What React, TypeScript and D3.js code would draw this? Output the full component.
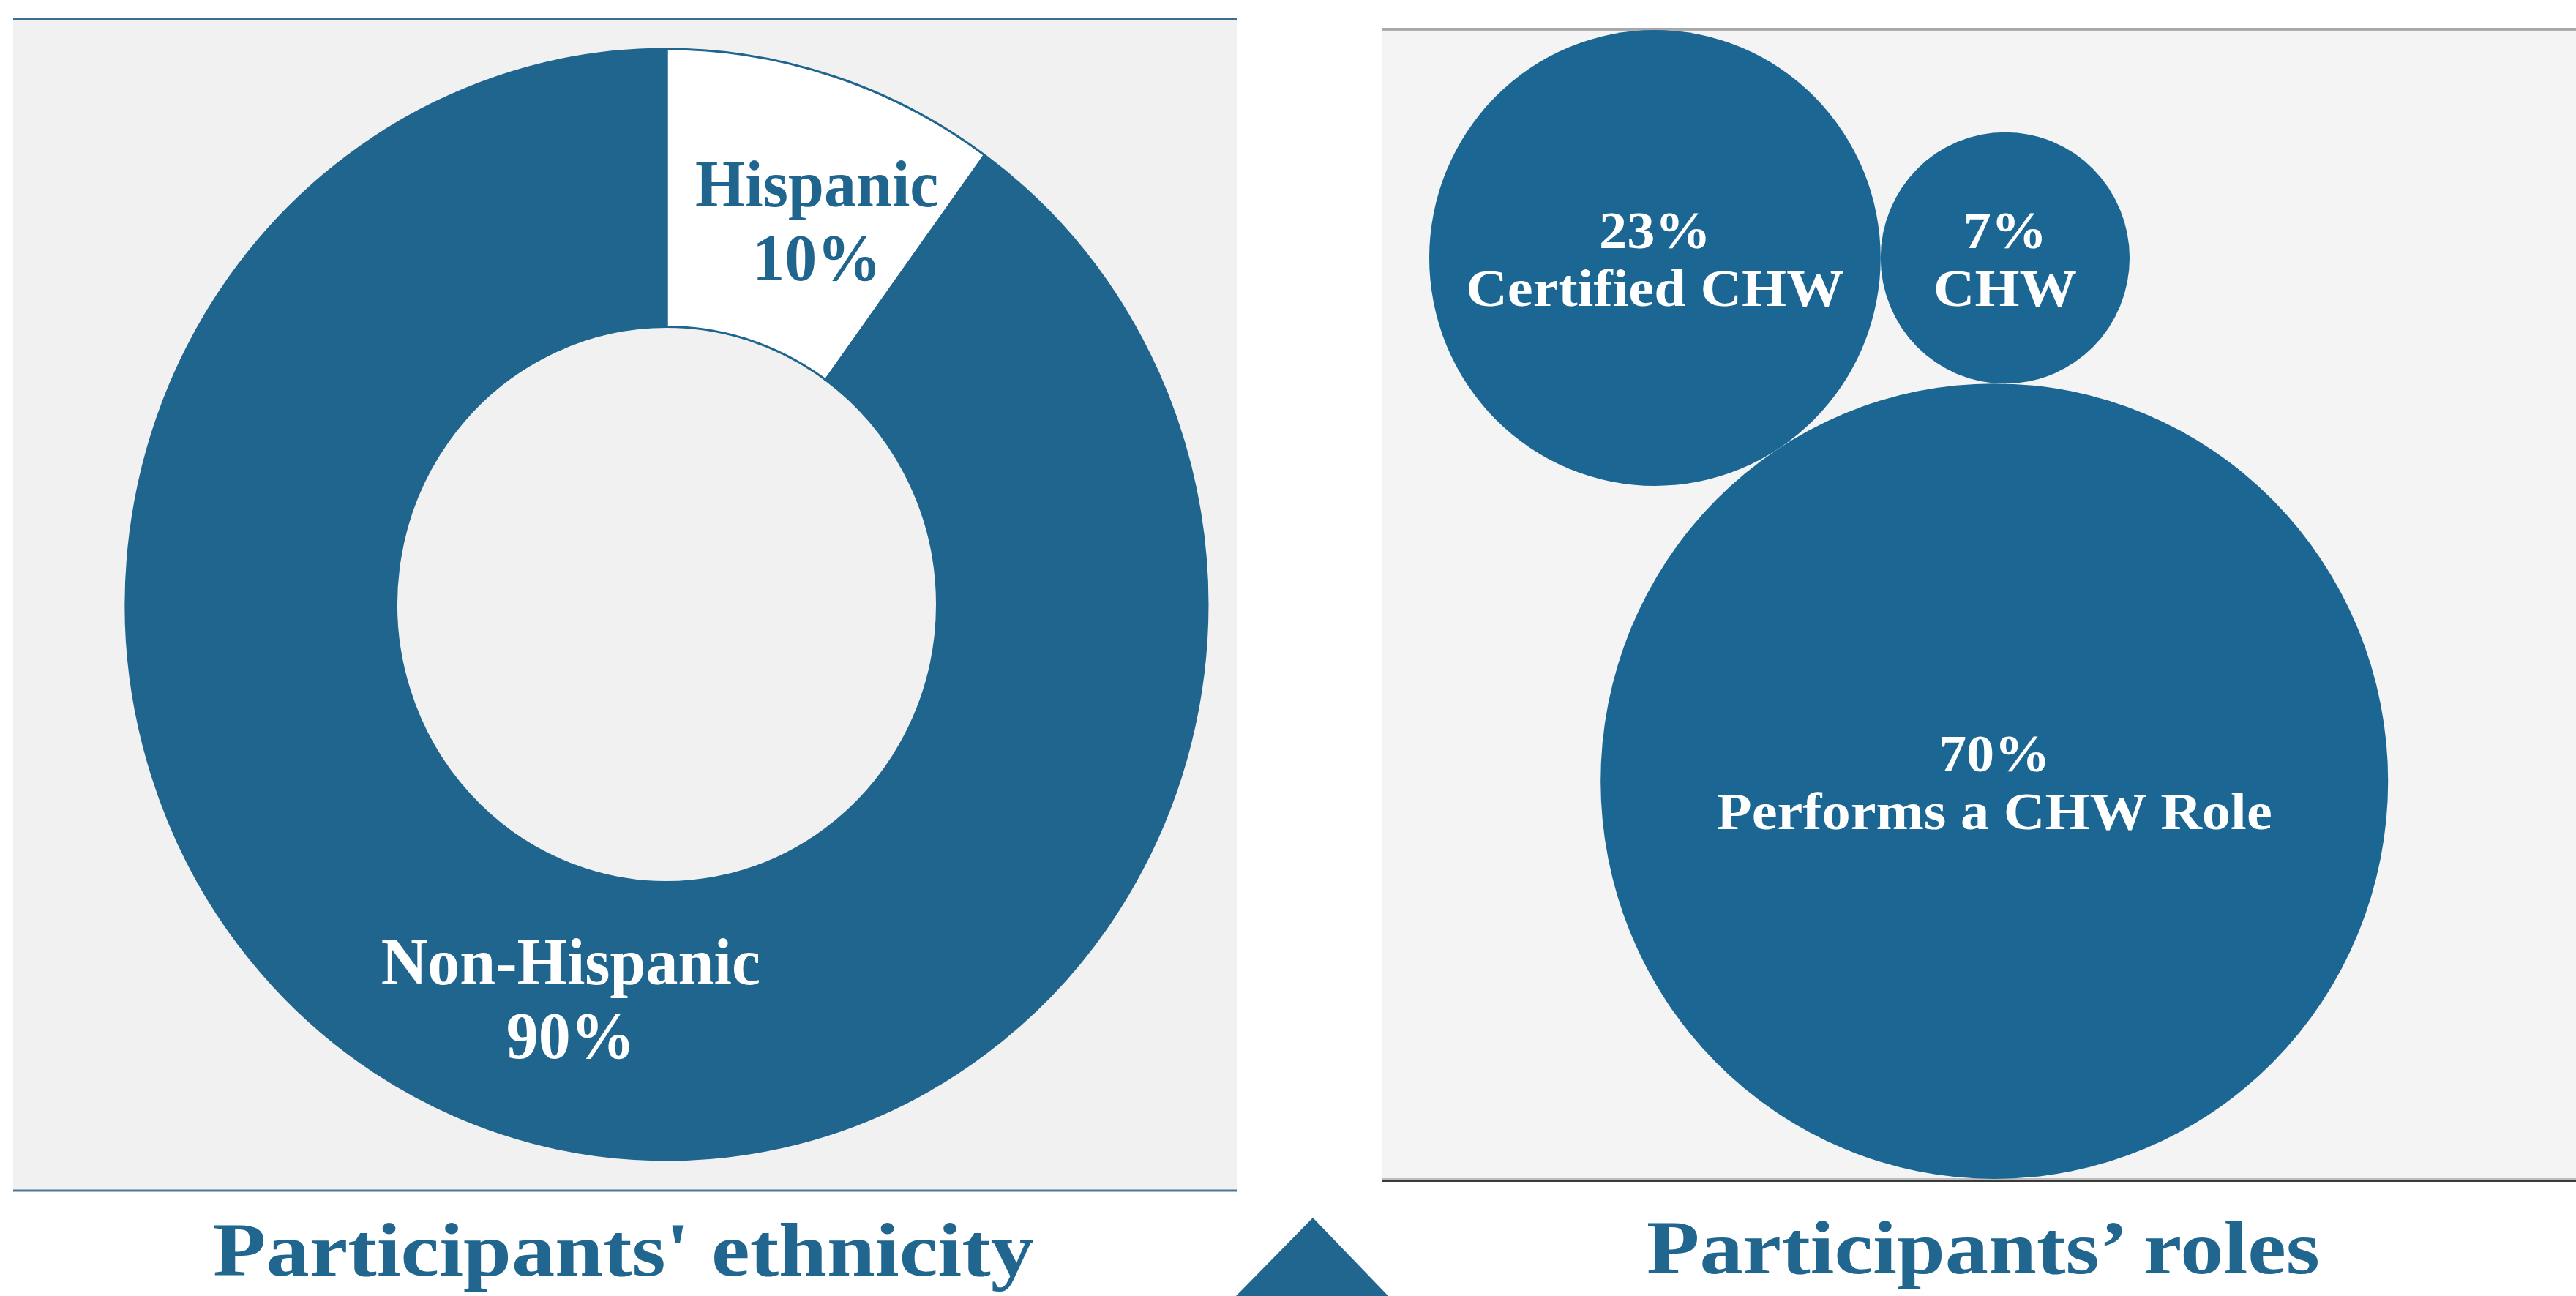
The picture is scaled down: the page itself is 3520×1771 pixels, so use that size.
import React from "react";
import * as d3 from "d3";

// ---- data ----
const ethnicityLabels = ["Hispanic", "Non-Hispanic"];
const ethnicityValues = [10, 90];
const roleLabels = ["Certified CHW", "CHW", "Performs a CHW Role"];
const roleValues = [23, 7, 70];
const chartTitles = ["Participants' ethnicity", "Participants\u2019 roles"];

// ---- style ----
const W = 3520;
const H = 1771;
const DONUT_BLUE = "#20658e";
const BUBBLE_BLUE = "#1c6693";
const TITLE_BLUE = "#21668f";
const SERIF = "'Liberation Serif', 'Times New Roman', serif";

export default function App() {
  const left = { x0: 18, x1: 1690, y0: 26, y1: 1627 };
  const right = { x0: 1888, x1: W, y0: 40, y1: 1612 };

  // donut
  const cx = 911;
  const cy = 826;
  const rOuter = 739;
  const rInner = rOuter * 0.5;
  const sy = 1.027;
  const pie = d3
    .pie<number>()
    .value((d) => d)
    .sort(null)(ethnicityValues);
  const arc = d3
    .arc<d3.PieArcDatum<number>>()
    .innerRadius(rInner)
    .outerRadius(rOuter);
  const labelArc = d3
    .arc<d3.PieArcDatum<number>>()
    .innerRadius(rInner)
    .outerRadius(rOuter - 20);

  // bubbles
  const rScale = d3
    .scaleSqrt()
    .domain([0, d3.max(roleValues) as number])
    .range([0, 538]);
  const radii = roleValues.map((v) => rScale(v));
  const [rA, rB, rC] = radii;
  const ab = rA + rB;
  const ac = rA + rC;
  const bc = rB + rC;
  const xC = (ac * ac - bc * bc + ab * ab) / (2 * ab);
  const yC = Math.sqrt(ac * ac - xC * xC);
  const centers: [number, number][] = [
    [0, 0],
    [ab, 0],
    [xC, yC],
  ];
  const bsy = 1.01;

  return (
    <div style={{ position: "absolute", left: 0, top: 0 }}>
      <svg width={W} height={H} style={{ display: "block", background: "#ffffff" }}>
        {/* left panel */}
        <rect x={left.x0} y={left.y0} width={left.x1 - left.x0} height={left.y1 - left.y0} fill="#f1f1f1" />
        <line x1={left.x0} x2={left.x1} y1={left.y0} y2={left.y0} stroke="#3d6e90" strokeWidth={3} />
        <line x1={left.x0} x2={left.x1} y1={left.y1} y2={left.y1} stroke="#4c7797" strokeWidth={3} />

        {/* right panel */}
        <rect x={right.x0} y={right.y0} width={right.x1 - right.x0} height={right.y1 - right.y0} fill="#f4f4f4" />
        <line x1={right.x0} x2={right.x1} y1={39.5} y2={39.5} stroke="#505050" strokeWidth={2} />
        <line x1={right.x0} x2={right.x1} y1={41.2} y2={41.2} stroke="#b0b0b0" strokeWidth={1.4} />
        <line x1={right.x0} x2={right.x1} y1={1611} y2={1611} stroke="#bdbdbd" strokeWidth={2} />
        <line x1={right.x0} x2={right.x1} y1={1614} y2={1614} stroke="#3a3a3a" strokeWidth={2} />

        {/* donut */}
        <g transform={`translate(${cx},${cy}) scale(1,${sy})`}>
          {pie.map((p, i) => (
            <path
              key={ethnicityLabels[i]}
              d={arc(p) as string}
              fill={i === 0 ? "#ffffff" : DONUT_BLUE}
              stroke={DONUT_BLUE}
              strokeWidth={3}
            />
          ))}
          {pie.map((p, i) => {
            const [lx, ly] = labelArc.centroid(p);
            const x = lx + 37;
            const b1 = ly + 8 - 20;
            const col = i === 0 ? DONUT_BLUE : "#ffffff";
            return (
              <g key={"lbl" + i} fontFamily={SERIF} fontWeight="bold" fontSize={88} fill={col} textAnchor="middle">
                <text x={x} y={b1}>{ethnicityLabels[i]}</text>
                <text x={x} y={b1 + 98}>{`${ethnicityValues[i]}%`}</text>
              </g>
            );
          })}
        </g>

        {/* bubbles */}
        <g transform={`translate(${right.x0 + 65 + rA},${right.y0 + 1}) scale(1,${bsy}) translate(0,${rA})`}>
          {centers.map(([x, y], i) => (
            <circle key={roleLabels[i]} cx={x} cy={y} r={radii[i]} fill={BUBBLE_BLUE} />
          ))}
          {centers.map(([x, y], i) => (
            <g key={"t" + i} fontFamily={SERIF} fontWeight="bold" fontSize={72} fill="#ffffff" textAnchor="middle">
              <text transform={`translate(${x},${y - 13}) scale(1.06,1)`}>{`${roleValues[i]}%`}</text>
              <text transform={`translate(${x},${y + 65}) scale(1.09,1)`}>{roleLabels[i]}</text>
            </g>
          ))}
        </g>

        {/* titles */}
        <g fontFamily={SERIF} fontWeight="bold" fontSize={103} fill={TITLE_BLUE} textAnchor="middle">
          <text transform={`translate(852,1743) scale(1.15,1)`}>{chartTitles[0]}</text>
          <text transform={`translate(2710,1740) scale(1.15,1)`}>{chartTitles[1]}</text>
        </g>

        {/* triangle marker */}
        <path d="M1794,1664 L1898,1772 L1688,1772 Z" fill={TITLE_BLUE} />
      </svg>
    </div>
  );
}
